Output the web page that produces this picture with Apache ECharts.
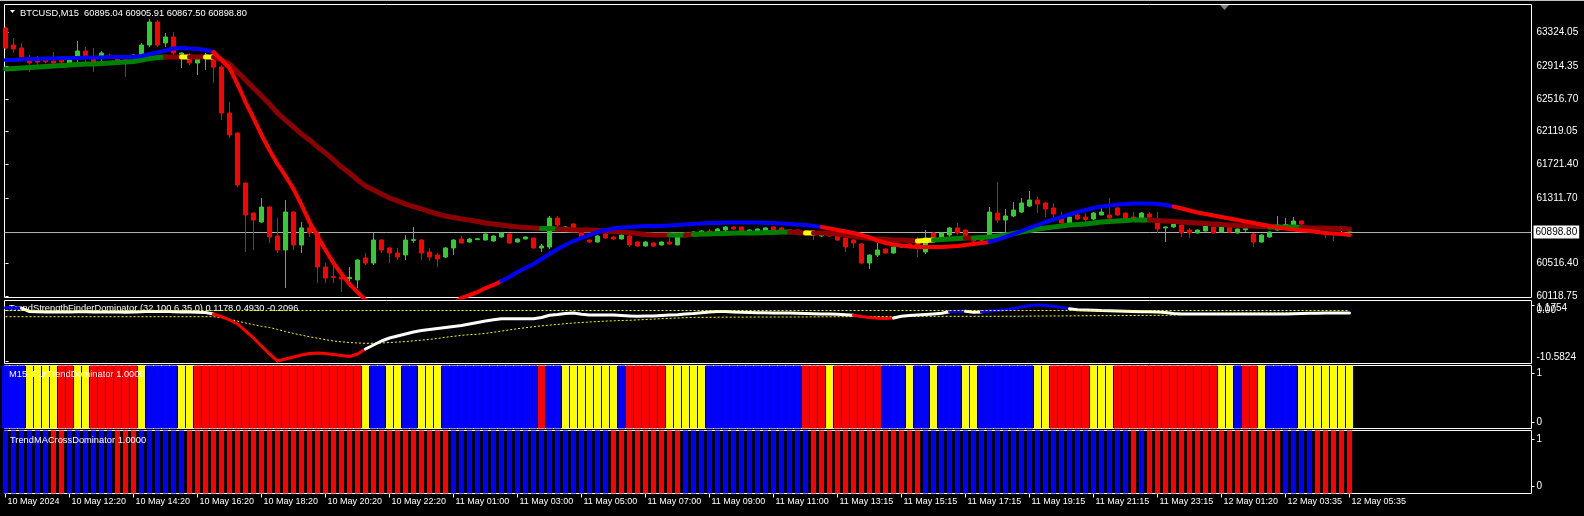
<!DOCTYPE html>
<html><head><meta charset="utf-8">
<script src="https://cdn.jsdelivr.net/npm/echarts@6/dist/echarts.min.js"></script>
<style>html,body{margin:0;padding:0;background:#000;}#c{width:1584px;height:516px;}</style>
</head><body><div id="c"></div>
<script>
// ---------- DATA ----------
const barTimes = ["10 May 2024","10 May 12:20","10 May 14:20","10 May 16:20","10 May 18:20","10 May 20:20","10 May 22:20","11 May 01:00","11 May 03:00","11 May 05:00","11 May 07:00","11 May 09:00","11 May 11:00","11 May 13:15","11 May 15:15","11 May 17:15","11 May 19:15","11 May 21:15","11 May 23:15","12 May 01:20","12 May 03:35","12 May 05:35"];
const barsPerLabel = 8;
const priceTicks = [63324.05,62914.35,62516.70,62119.05,61721.40,61311.70,60516.40,60118.75];
const currentPrice = 60898.80;
const symbolTitle = "BTCUSD,M15  60895.04 60905.91 60867.50 60898.80";

const open = [63381,63174,63138,63004,62992,62992,62980,62990,62955,63028,
63101,63016,63028,63050,63016,62992,63016,63052,63174,63454,
63199,63272,63028,63040,62955,63016,63077,62906,62346,62103,
61494,61129,61020,61202,60849,60679,61141,60740,60947,60886,
60472,60355,60350,60330,60314,60581,60520,60800,60703,60642,
60618,60795,60800,60654,60618,60593,60703,60813,60776,60805,
60800,60788,60837,60873,60776,60813,60825,60703,60715,61068,
60922,60995,60898,60800,60776,60873,60837,60813,60849,60776,
60727,60764,60740,60776,60740,60886,60873,60886,60910,60898,
60922,60959,60959,60898,60898,60910,60959,60947,60898,60922,
60886,60886,60849,60873,60861,60825,60800,60752,60520,60618,
60691,60642,60715,60752,60776,60654,60886,60800,60861,60947,
60922,60837,60800,60861,61129,61044,61093,61141,61214,61287,
61251,61190,61080,61007,61105,61080,61056,61105,61105,61190,
61129,61080,61068,61117,61007,60947,60959,60983,60922,60886,
60910,60959,60898,60959,60886,60925,60873,60776,60837,60922,
60975,60983,61032,60959,60934,60898,60890,60880,60895.04];
const high = [63400,63259,63199,63052,63040,63020,63089,63010,63010,63223,
63150,63138,63101,63070,63052,63016,63060,63199,63490,63478,
63320,63332,63085,63077,63052,63077,63089,62931,62480,62110,
61500,61135,61312,61210,61068,61287,61150,61020,61007,60898,
60520,60496,60360,60472,60565,60642,60886,60810,60715,60703,
60861,60959,60813,60703,60642,60715,60810,60849,60825,60825,
60880,60855,60895,60880,60820,60845,60830,60752,61093,61093,
60970,61007,60910,60810,60860,60886,60849,60873,60861,60788,
60788,60770,60782,60825,60845,60895,60905,60920,60934,60945,
60970,60965,60965,60930,60940,60955,60965,60955,60930,60930,
60920,60890,60870,60880,60873,60837,60810,60764,60625,60764,
60700,60720,60752,60760,60837,60922,60895,60895,60959,61007,
60930,60849,60849,61202,61507,61178,61263,61312,61397,61324,
61263,61251,61141,61090,61129,61129,61141,61226,61312,61200,
61135,61141,61141,61141,61141,60965,61007,60990,60947,60930,
60980,60965,60965,60965,60940,60959,60886,60870,60905,61093,
61068,61080,61040,60965,60940,60905,60898,60910,60905.91];
const low = [63113,63077,63016,62845,62931,62950,62943,62950,62940,62967,
62967,62845,62955,63020,62967,62785,62955,63028,63150,63150,
63150,63052,62894,62931,62809,62870,62712,62261,62042,61445,
60654,60679,61007,60764,60642,60216,60679,60642,60837,60277,
60277,60277,60167,60228,60216,60496,60496,60642,60520,60557,
60557,60764,60557,60545,60472,60581,60618,60760,60770,60800,
60795,60780,60830,60755,60770,60805,60695,60654,60691,60959,
60910,60934,60825,60764,60770,60813,60800,60805,60715,60715,
60720,60715,60735,60740,60735,60855,60865,60880,60861,60890,
60915,60925,60890,60890,60890,60905,60915,60890,60890,60880,
60880,60800,60840,60840,60790,60654,60703,60508,60447,60593,
60635,60635,60703,60703,60593,60630,60813,60790,60837,60861,
60840,60776,60795,60837,61007,60898,61080,61129,61202,61129,
61080,61080,61000,60995,61044,61007,61044,61100,61060,61095,
61060,61040,61060,61020,60886,60776,60950,60837,60825,60880,
60905,60880,60890,60890,60880,60898,60715,60770,60830,60915,
60970,60970,60985,60925,60880,60825,60788,60870,60867.50];
const close = [63138,63126,63028,62955,62967,62970,62955,62967,62992,63101,
63040,62967,63077,63040,62979,62967,63052,63174,63454,63174,
63272,63077,63077,62955,63004,63052,62906,62346,62079,61470,
61105,61044,61202,60837,60679,61141,60740,60947,60886,60472,
60338,60345,60326,60345,60557,60520,60800,60679,60642,60593,
60800,60805,60642,60593,60569,60703,60800,60764,60813,60815,
60873,60849,60886,60764,60813,60837,60703,60727,61068,60983,
60959,60947,60837,60776,60849,60825,60813,60861,60740,60727,
60776,60727,60776,60752,60837,60861,60898,60910,60886,60934,
60959,60934,60898,60922,60934,60947,60922,60898,60922,60886,
60910,60861,60861,60849,60800,60715,60764,60520,60618,60679,
60642,60715,60740,60715,60715,60825,60825,60886,60947,60886,
60849,60788,60837,61141,61044,61093,61165,61251,61287,61238,
61178,61117,61007,61080,61056,61050,61129,61141,61068,61105,
61068,61044,61129,61080,60934,60959,60995,60886,60886,60922,
60971,60886,60959,60898,60934,60940,60776,60861,60898,60983,
60990,61032,60995,60934,60886,60873,60870,60892,60898.80];

const fastMA = [62992,62992,62998,63004,63004,63010,63010,63016,63016,63016,
63022,63022,63022,63028,63028,63028,63028,63040,63065,63083,
63107,63132,63138,63132,63126,63113,63089,62992,62894,62699,
62480,62285,62079,61896,61726,61580,61421,61227,61020,60849,
60679,60520,60388,60266,60167,60070,59990,59910,59850,59810,
59790,59790,59810,59850,59900,59960,60030,60095,60130,60167,
60216,60253,60301,60350,60411,60460,60508,60569,60630,60691,
60740,60788,60825,60861,60898,60922,60940,60953,60959,60965,
60971,60971,60971,60977,60983,60989,60995,61001,61007,61007,
61013,61013,61013,61013,61013,61007,61007,61001,60995,60989,
60983,60971,60959,60940,60922,60904,60886,60861,60831,60794,
60764,60746,60733,60721,60715,60715,60715,60715,60721,60727,
60740,60752,60764,60776,60806,60837,60873,60910,60947,60983,
61020,61050,61080,61111,61141,61165,61190,61208,61220,61232,
61238,61245,61245,61245,61238,61226,61208,61184,61159,61135,
61117,61098,61080,61062,61044,61026,61007,60989,60971,60953,
60940,60928,60916,60910,60898,60886,60880,60873,60861];
// trend state of each fast-MA segment: b = rising (blue), r = falling (red)
const fastState = [['b',26],['r',36],['b',40],['r',21],['b',23],['r',22]];

const slowMA = [62882,62888,62894,62900,62906,62912,62918,62925,62931,62937,
62943,62943,62949,62955,62961,62967,62973,62992,63010,63022,
63028,63028,63028,63028,63028,63028,63028,62992,62943,62845,
62748,62651,62553,62456,62346,62261,62176,62090,62018,61933,
61860,61775,61689,61616,61531,61459,61410,61361,61312,61276,
61238,61208,61178,61147,61117,61093,61074,61056,61044,61026,
61007,60995,60983,60971,60959,60953,60947,60940,60940,60934,
60928,60922,60922,60922,60916,60910,60904,60898,60892,60880,
60867,60861,60861,60861,60861,60861,60867,60873,60873,60880,
60880,60886,60886,60886,60886,60892,60892,60898,60898,60892,
60886,60886,60886,60880,60873,60861,60843,60831,60819,60813,
60806,60800,60800,60794,60788,60794,60800,60806,60813,60819,
60825,60825,60831,60837,60849,60861,60880,60898,60916,60934,
60947,60959,60971,60983,60989,60995,61007,61020,61026,61032,
61038,61044,61044,61044,61038,61032,61026,61020,61013,61007,
61001,60995,60989,60983,60977,60971,60971,60965,60959,60959,
60959,60959,60953,60947,60947,60947,60940,60940,60934];
// g = rising (green), d = falling (dark red), y = neutral (yellow)
const slowState = [['g',20],['d',2],['y',1],['d',2],['y',1],['d',41],['g',2],['d',14],['g',2],['d',1],['g',12],['d',2],['y',1],['d',13],['y',2],['g',4],['d',1],['g',22],['d',15],['g',4],['d',6]];

const tsfTitle = "TrendStrengthFinderDominator (32,100,6.35,0) 0.1178 0.4930 -0.2096";
const tsfMax = 1.1754, tsfMin = -10.5824;
const tsf = [0.60,0.55,0.50,-0.19,-0.25,-0.28,-0.30,-0.30,-0.28,-0.22,
-0.25,-0.30,-0.28,-0.27,-0.30,-0.33,-0.30,-0.24,-0.15,-0.18,
-0.15,-0.22,-0.28,-0.32,-0.34,-0.40,-0.71,-1.24,-1.97,-2.81,
-4.28,-5.75,-7.43,-9.11,-10.5824,-10.16,-9.74,-9.32,-9.01,-8.90,
-9.01,-9.22,-9.43,-9.64,-9.11,-8.06,-7.22,-6.38,-5.75,-5.33,
-4.91,-4.49,-4.18,-3.97,-3.76,-3.55,-3.34,-3.13,-2.81,-2.50,
-2.18,-1.93,-1.70,-1.70,-1.70,-1.70,-1.70,-1.45,-0.99,-0.82,
-0.61,-0.50,-0.76,-0.92,-0.92,-0.92,-0.92,-1.03,-1.13,-1.20,
-1.13,-1.13,-1.03,-0.92,-0.86,-0.71,-0.61,-0.46,-0.29,-0.19,
-0.19,-0.29,-0.36,-0.40,-0.44,-0.46,-0.50,-0.50,-0.50,-0.57,
-0.61,-0.65,-0.71,-0.71,-0.78,-0.88,-0.99,-1.24,-1.45,-1.62,
-1.66,-1.55,-1.20,-1.03,-0.92,-0.82,-0.71,-0.57,-0.23,-0.15,
-0.15,-0.36,-0.29,-0.08,0.02,0.19,0.44,0.76,1.07,1.1754,
1.07,0.90,0.65,0.40,0.19,0.13,0.06,0.00,-0.02,-0.08,
-0.15,-0.19,-0.23,-0.25,-0.29,-0.40,-0.61,-0.71,-0.71,-0.71,
-0.71,-0.71,-0.71,-0.71,-0.71,-0.71,-0.71,-0.71,-0.71,-0.71,
-0.71,-0.65,-0.61,-0.57,-0.55,-0.50,-0.50,-0.50,-0.50];
const tsfSignal = [-1.28,-1.28,-1.28,-1.28,-1.28,-1.28,-1.28,-1.28,-1.28,-1.28,
-1.28,-1.28,-1.28,-1.28,-1.28,-1.28,-1.28,-1.28,-1.28,-1.28,
-1.28,-1.28,-1.28,-1.28,-1.28,-1.28,-1.28,-1.5,-1.8,-2.2,
-2.6,-2.95,-3.3,-3.55,-3.95,-4.4,-4.8,-5.15,-5.5,-5.8,
-6.1,-6.38,-6.55,-6.7,-6.8,-6.87,-6.85,-6.8,-6.7,-6.6,
-6.5,-6.35,-6.2,-6.05,-5.85,-5.6,-5.4,-5.2,-5.05,-4.95,
-4.8,-4.55,-4.3,-4.05,-3.8,-3.6,-3.4,-3.2,-3.05,-2.9,
-2.75,-2.6,-2.5,-2.4,-2.3,-2.2,-2.15,-2.08,-2.04,-1.95,
-1.87,-1.78,-1.7,-1.62,-1.55,-1.48,-1.43,-1.41,-1.40,-1.39,
-1.38,-1.37,-1.37,-1.36,-1.36,-1.35,-1.35,-1.34,-1.34,-1.34,
-1.33,-1.32,-1.31,-1.30,-1.29,-1.28,-1.27,-1.26,-1.26,-1.25,
-1.25,-1.24,-1.23,-1.22,-1.21,-1.20,-1.20,-1.20,-1.20,-1.20,
-1.20,-1.20,-1.20,-1.19,-1.19,-1.18,-1.18,-1.17,-1.16,-1.15,
-1.14,-1.13,-1.12,-1.11,-1.10,-1.09,-1.08,-1.07,-1.06,-1.05,
-1.04,-1.03,-1.02,-1.01,-1.00,-0.99,-0.93,-0.86,-0.78,-0.70,
-0.64,-0.60,-0.57,-0.55,-0.54,-0.53,-0.53,-0.52,-0.52,-0.52,
-0.52,-0.52,-0.52,-0.52,-0.52,-0.52,-0.52,-0.52,-0.52];
// w = neutral (white), r = bearish (red), b = bullish (blue)
const tsfState = [['b',2],['w',24],['r',19],['w',61],['r',5],['w',7],['b',2],['w',2],['b',11],['w',35]];

const purTitle = "M15  PurTrendDominator 1.0000";
const purState = [['b',3],['y',4],['r',2],['y',2],['r',6],['y',1],['b',4],['y',2],['r',21],['y',1],['b',2],['y',2],['b',2],['y',3],['b',12],['r',1],['b',2],['y',7],['b',1],['r',5],['y',5],['b',12],['r',3],['y',1],['r',6],['b',3],['y',1],['b',2],['y',1],['b',3],['y',2],['b',7],['y',2],['r',5],['y',3],['r',13],['y',2],['b',1],['r',2],['y',1],['b',4],['y',7]];
const crossTitle = "TrendMACrossDominator 1.0000";
const crossState = [['b',6],['r',2],['b',6],['r',3],['b',6],['r',33],['b',20],['r',9],['b',16],['r',14],['b',26],['r',1],['b',1],['r',17],['b',4],['r',5]];
const histTicks = [1, 0];

// ---------- BUILD ----------
const COL = {b:'#0000ff', r:'#ff0000', g:'#008000', d:'#8b0000', y:'#ffff00', w:'#ffffff'};
const FONT = 'Liberation Sans';
function expand(runs){ const a=[]; runs.forEach(([s,n])=>{for(let k=0;k<n;k++)a.push(s);}); return a; }

function segSeries(vals, runs, width, xi, yi, z){
  const st = expand(runs); const out=[]; let a=0;
  for(let i=1;i<=st.length;i++){
    if(i===st.length || st[i]!==st[a]){
      const pts=[]; for(let k=a;k<=i;k++) pts.push([k, vals[k]]);
      out.push({type:'line', xAxisIndex:xi, yAxisIndex:yi, data:pts, symbol:'none', showSymbol:false, silent:true,
        clip:true, lineStyle:{color:COL[st[a]], width:width, cap:'round', join:'round'}, z:z});
      a=i;
    }
  }
  return out;
}

const nBars = open.length;
const labelBars = barTimes.map((_,k)=>k*barsPerLabel);
const candleData = open.map((o,i)=>[i, o, close[i], low[i], high[i]]);

const gridL = 4.5, gridW = 1527, barPx = 8;
const xMin = -0.125, xMax = xMin + gridW/barPx;
const xBase = {type:'value', min:xMin, max:xMax, show:false, splitLine:{show:false}};

const labelStyle = {color:'#fff', fontSize:10, fontFamily:FONT};

const grids = [
  {left:gridL, top:4.5, width:gridW, height:293},
  {left:gridL, top:300.5, width:gridW, height:63},
  {left:gridL, top:365.5, width:gridW, height:63},
  {left:gridL, top:430.5, width:gridW, height:63}
].map(g=>Object.assign(g,{show:true, borderColor:'#ffffff', borderWidth:1, backgroundColor:'transparent', containLabel:false}));

const series = [];
series.push({
  type:'candlestick', xAxisIndex:0, yAxisIndex:0, data:candleData, encode:{x:0, y:[1,2,3,4]},
  barWidth:4, clip:true, silent:true, z:2,
  itemStyle:{color:'#32cd32', color0:'#ff0000', borderColor:'#32cd32', borderColor0:'#ff0000', borderWidth:1},
  markLine:{silent:true, symbol:['none','none'], animation:false, z:1,
    data:[{yAxis:currentPrice}],
    lineStyle:{color:'#b0b0b0', width:1, type:'solid'},
    label:{show:true, position:'end', formatter:()=>currentPrice.toFixed(2), color:'#000', backgroundColor:'#fff',
      padding:[2,2,1,2], fontSize:10, fontFamily:FONT, distance:2}}
});
segSeries(slowMA, slowState, 5, 0, 0, 3).forEach(s=>series.push(s));
segSeries(fastMA, fastState, 4, 0, 0, 4).forEach(s=>series.push(s));

series.push({type:'line', xAxisIndex:1, yAxisIndex:1, data:tsfSignal.map((v,i)=>[i,v]), symbol:'none', silent:true,
  lineStyle:{color:'#ffff00', width:1, type:[2,2]}, z:2,
  markLine:{silent:true, symbol:['none','none'], animation:false, label:{show:false},
    lineStyle:{color:'#ffff00', width:1, type:[2,2]},
    data:[[{coord:[0,0]},{coord:[nBars-1,0]}]]}});
segSeries(tsf, tsfState, 3, 1, 1, 3).forEach(s=>series.push(s));

const purBars = expand(purState).map((s,i)=>({value:[i,1], itemStyle:{color:COL[s]}}));
series.push({type:'bar', xAxisIndex:2, yAxisIndex:2, data:purBars, barWidth:7, silent:true, z:2});
const crossBars = expand(crossState).map((s,i)=>({value:[i,1], itemStyle:{color:COL[s]}}));
series.push({type:'bar', xAxisIndex:3, yAxisIndex:4, data:crossBars, barWidth:5, silent:true, z:2});

function rightAxis(grid, min, max, ticks, fmt, rich){
  const lab = Object.assign({show:true, customValues:ticks, formatter:fmt, margin:5, hideOverlap:false}, labelStyle);
  if (rich) lab.rich = rich;
  return {type:'value', gridIndex:grid, position:'right', min:min, max:max,
    axisLine:{show:false}, splitLine:{show:false},
    axisTick:{show:true, customValues:ticks, length:3, lineStyle:{color:'#fff'}},
    axisLabel:lab};
}
const tsfLo = -11.107, tsfHi = 2.120;
const richTsf = {
  t:{padding:[7,0,0,0], color:'#fff', fontSize:10, fontFamily:FONT},
  m:{color:'#fff', fontSize:10, fontFamily:FONT},
  b:{padding:[0,0,7,0], color:'#fff', fontSize:10, fontFamily:FONT}
};

const option = {
  backgroundColor:'#000',
  animation:false,
  textStyle:{fontFamily:FONT},
  grid:grids,
  xAxis:[
    Object.assign({gridIndex:0}, xBase),
    Object.assign({gridIndex:1}, xBase),
    Object.assign({gridIndex:2}, xBase),
    Object.assign({}, xBase, {gridIndex:3, show:true, axisLine:{show:false},
      axisTick:{show:true, customValues:labelBars, length:4, lineStyle:{color:'#fff'}},
      axisLabel:{show:true, customValues:labelBars, formatter:(v)=>barTimes[Math.round(v/barsPerLabel)],
        align:'left', margin:4, padding:[0,0,0,2], color:'#fff', fontSize:9, fontFamily:FONT, hideOverlap:false}})
  ],
  yAxis:[
    rightAxis(0, 60100.5, 63667.2, priceTicks, v=>v.toFixed(2)),
    rightAxis(1, tsfLo, tsfHi, [0, tsfMin], v=> v===0 ? '{m|0.00}' : '{b|'+v+'}', richTsf),
    {type:'value', gridIndex:2, min:0, max:1, show:false, splitLine:{show:false}},
    rightAxis(2, -0.1327, 1.153, histTicks, v=>String(v)),
    {type:'value', gridIndex:3, min:0, max:1, show:false, splitLine:{show:false}},
    rightAxis(3, -0.159, 1.181, histTicks, v=>String(v)),
    rightAxis(1, tsfLo, tsfHi, [tsfMax], v=>'{t|'+v+'}', richTsf)
  ],
  series:series,
  graphic:[
    {type:'rect', shape:{x:0,y:0,width:1584,height:1}, style:{fill:'#c0c0c0'}, z:50, silent:true},
    {type:'polygon', shape:{points:[[10,10],[15,10],[12.5,13]]}, style:{fill:'#fff'}, z:50, silent:true},
    {type:'text', x:20, y:13, style:{text:symbolTitle, fill:'#fff', fontSize:9.3, fontFamily:FONT, verticalAlign:'middle'}, z:50, silent:true},
    {type:'polygon', shape:{points:[[1220,5],[1229,5],[1224.5,10]]}, style:{fill:'#808080'}, z:50, silent:true},
    {type:'text', x:9, y:308, style:{text:tsfTitle, fill:'#fff', fontSize:9.3, fontFamily:FONT, verticalAlign:'middle'}, z:1, silent:true},
    {type:'text', x:9, y:374, style:{text:purTitle, fill:'#fff', fontSize:9.3, fontFamily:FONT, verticalAlign:'middle'}, z:50, silent:true},
    {type:'text', x:10, y:440, style:{text:crossTitle, fill:'#fff', fontSize:9.3, fontFamily:FONT, verticalAlign:'middle'}, z:50, silent:true}
  ]
};
const chart = echarts.init(document.getElementById('c'), null, {renderer:'canvas', width:1584, height:516});
chart.setOption(option);
</script></body></html>
